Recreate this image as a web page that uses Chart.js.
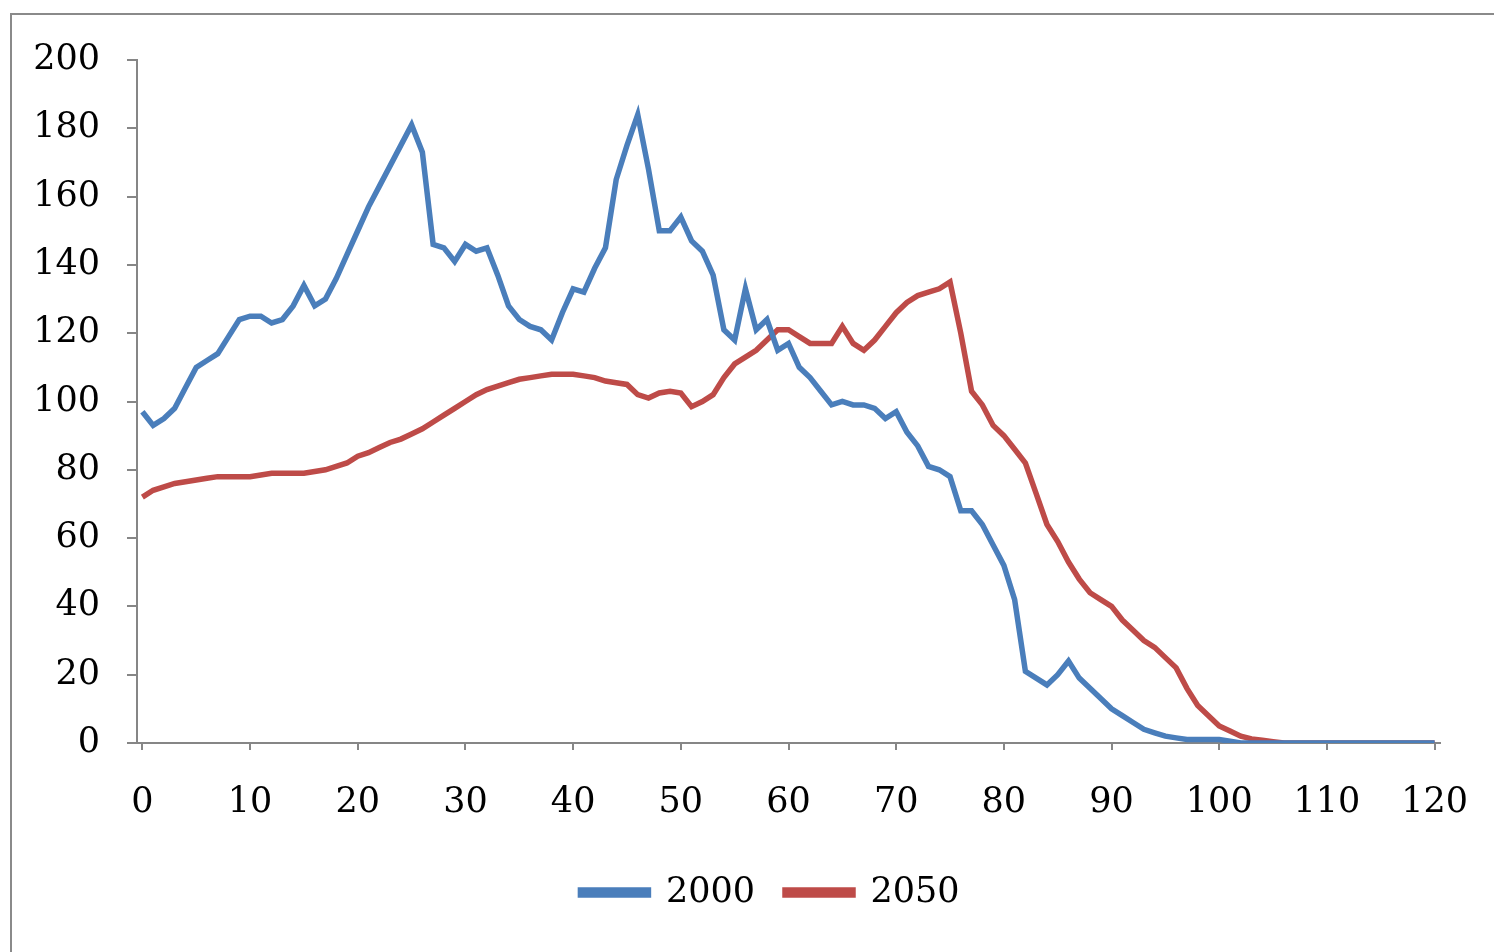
<!DOCTYPE html>
<html>
<head>
<meta charset="utf-8">
<script src="https://cdn.jsdelivr.net/npm/chart.js@4/dist/chart.umd.min.js"></script>
<style>
  body { margin: 0; background: #fff; }
  #wrap { position: absolute; left: 0; top: 0; width: 1494px; height: 952px; }
  #frame { position: absolute; left: 10px; top: 13px; width: 1500px; height: 960px; border: 2px solid #8a8a8a; }
</style>
</head>
<body>
<div id="frame"></div>
<div id="wrap"><canvas id="myChart"></canvas></div>
<script>
// edad 0..120
var ages = [];
for (var a = 0; a <= 120; a++) ages.push(a);

var xTickValues = [0, 10, 20, 30, 40, 50, 60, 70, 80, 90, 100, 110, 120];

var serie2000 = [
  97, 93, 95, 98, 104, 110, 112, 114, 119, 124,
  125, 125, 123, 124, 128, 134, 128, 130, 136, 143,
  150, 157, 163, 169, 175, 181, 173, 146, 145, 141,
  146, 144, 145, 137, 128, 124, 122, 121, 118, 126,
  133, 132, 139, 145, 165, 175, 184, 168, 150, 150,
  154, 147, 144, 137, 121, 118, 133, 121, 124, 115,
  117, 110, 107, 103, 99, 100, 99, 99, 98, 95,
  97, 91, 87, 81, 80, 78, 68, 68, 64, 58,
  52, 42, 21, 19, 17, 20, 24, 19, 16, 13,
  10, 8, 6, 4, 3, 2, 1.5, 1, 1, 1,
  1, 0.5, 0, 0, 0, 0, 0, 0, 0, 0,
  0, 0, 0, 0, 0, 0, 0, 0, 0, 0,
  0
];

var serie2050 = [
  72, 74, 75, 76, 76.5, 77, 77.5, 78, 78, 78,
  78, 78.5, 79, 79, 79, 79, 79.5, 80, 81, 82,
  84, 85, 86.5, 88, 89, 90.5, 92, 94, 96, 98,
  100, 102, 103.5, 104.5, 105.5, 106.5, 107, 107.5, 108, 108,
  108, 107.5, 107, 106, 105.5, 105, 102, 101, 102.5, 103,
  102.5, 98.5, 100, 102, 107, 111, 113, 115, 118, 121,
  121, 119, 117, 117, 117, 122, 117, 115, 118, 122,
  126, 129, 131, 132, 133, 135, 120, 103, 99, 93,
  90, 86, 82, 73, 64, 59, 53, 48, 44, 42,
  40, 36, 33, 30, 28, 25, 22, 16, 11, 8,
  5, 3.5, 2, 1.2, 0.8, 0.4, 0, 0, 0, 0,
  0, 0, 0, 0, 0, 0, 0, 0, 0, 0,
  0
];

var azul = '#4a7ebb';
var rojo = '#be4b48';
var fuente = { family: 'DejaVu Serif', size: 35 };

var puntos2000 = ages.map(function (x, i) { return { x: x, y: serie2000[i] }; });
var puntos2050 = ages.map(function (x, i) { return { x: x, y: serie2050[i] }; });

// mover la leyenda para centrarla bajo el área del gráfico
var moverLeyenda = {
  id: 'moverLeyenda',
  afterLayout: function (chart) {
    chart.legend.left += 50;
    chart.legend.right += 50;
  }
};

var ctx = document.getElementById('myChart').getContext('2d');
var chart = new Chart(ctx, {
  type: 'line',
  data: {
    datasets: [{
      label: '2000',
      data: puntos2000,
      borderColor: azul,
      backgroundColor: azul,
      borderWidth: 5.5,
      pointRadius: 0,
      tension: 0
    }, {
      label: '2050',
      data: puntos2050,
      borderColor: rojo,
      backgroundColor: rojo,
      borderWidth: 5.5,
      pointRadius: 0,
      tension: 0
    }]
  },
  plugins: [moverLeyenda],
  options: {
    responsive: true,
    maintainAspectRatio: false,
    animation: false,
    devicePixelRatio: 1,
    layout: { padding: { top: 60, right: 54, bottom: 32, left: 0 } },
    plugins: {
      tooltip: { enabled: false },
      legend: {
        position: 'bottom',
        labels: {
          color: '#000',
          font: fuente,
          boxWidth: 68,
          boxHeight: 5,
          padding: 30
        }
      }
    },
    scales: {
      x: {
        type: 'linear',
        min: -0.5,
        max: 120.5,
        afterBuildTicks: function (scale) {
          scale.ticks = xTickValues.map(function (v) { return { value: v }; });
        },
        afterFit: function (scale) {
          scale.height = 102;
          scale.paddingLeft = 0;
          scale.paddingRight = 0;
        },
        grid: { drawOnChartArea: false, drawTicks: true, tickLength: 7, color: '#868686', lineWidth: 2 },
        border: { color: '#868686', width: 2 },
        ticks: { color: '#000', font: fuente, padding: 32, maxRotation: 0, autoSkip: false }
      },
      y: {
        min: 0,
        max: 200,
        afterFit: function (scale) { scale.width = 137; },
        grid: { drawOnChartArea: false, drawTicks: true, tickLength: 10, color: '#868686', lineWidth: 2 },
        border: { color: '#868686', width: 2 },
        ticks: { stepSize: 20, color: '#000', font: fuente, padding: 27 }
      }
    }
  }
});
</script>
</body>
</html>
